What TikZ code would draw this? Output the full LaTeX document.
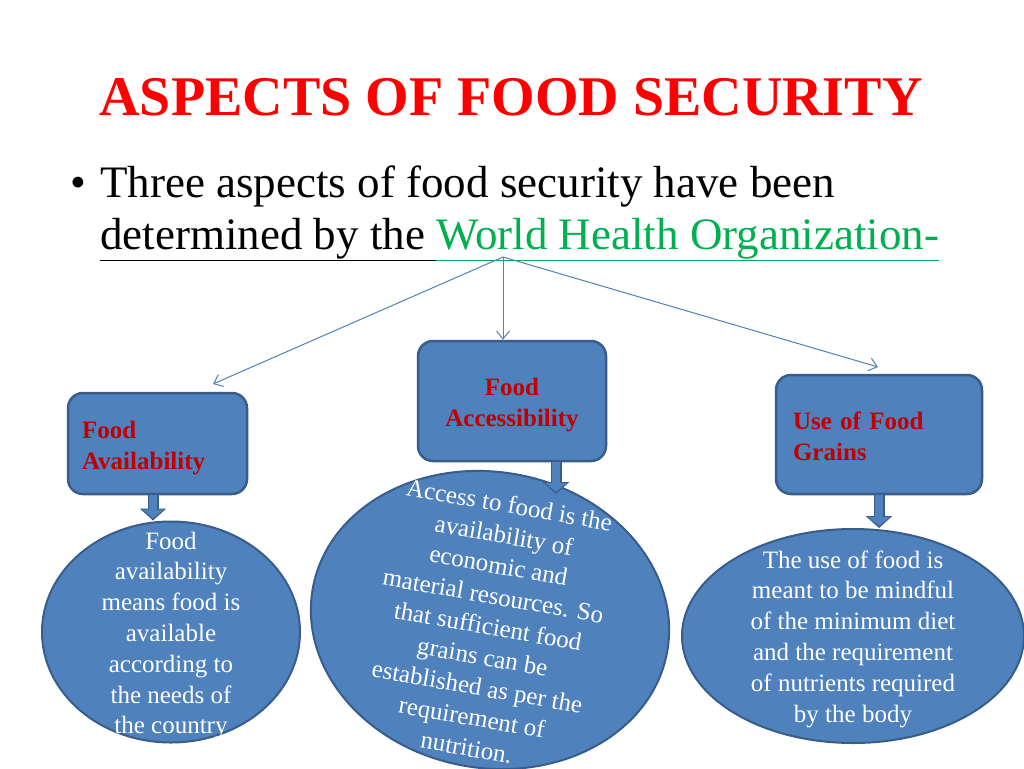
\documentclass[tikz,border=0pt]{standalone}
\usepackage{fontspec}
\setmainfont{Liberation Serif}
\usetikzlibrary{shapes.geometric,arrows.meta,calc}
\definecolor{c1}{RGB}{79,129,189}
\definecolor{c2}{RGB}{56,93,138}
\definecolor{c3}{RGB}{192,0,0}
\definecolor{c4}{RGB}{255,0,0}
\definecolor{c5}{RGB}{0,176,80}
\tikzstyle{aspects chart}=[
    x=1pt, y=-1pt,
    slide title/.style={font={\fontsize{56}{60}\selectfont\bfseries}, text=c4, inner sep=0},
    bullet text/.style={font={\fontsize{45}{50}\selectfont}, anchor=base west, inner sep=0},
    branch/.style={c1, line width=1pt, -{Straight Barb[length=8pt,width=13pt]}},
    aspect box/.style={rectangle, rounded corners=15pt, draw=c2, fill=c1, line width=2.5pt,
        inner sep=0, font={\fontsize{25}{31}\selectfont\bfseries}, text=c3},
    aspect oval/.style={ellipse, draw=c2, fill=c1, line width=2pt, inner sep=0},
    oval text/.style={align=center, text=white, inner sep=0, font={\fontsize{25}{30.8}\selectfont}},
]
\newcommand{\feed}[2]{
    \draw[c2, line width=11pt, -{Triangle[length=12pt,width=26pt]}] (#1) -- (#2);
    \draw[c1, line width=7.5pt, shorten >=2pt, -{Triangle[length=9pt,width=21pt]}] (#1) -- (#2);
}

\begin{document}
\begin{tikzpicture}[aspects chart]
    \useasboundingbox[fill=white] (0,0) rectangle (1024,768);

    % heading
    \node[slide title] (title) at (511,97) {ASPECTS OF FOOD SECURITY};
    \node[bullet text] (dot) at (70,197) {•};
    \node[bullet text] (line1) at (100,197) {Three aspects of food security have been};
    \node[bullet text] (line2) at (100,249)
        {\underline{determined by the }{\color{c5}\underline{World Health Organization-}}};

    % ovals
    \node[aspect oval, minimum width=258, minimum height=221] (availoval) at (171,632) {};
    \node[aspect oval, minimum width=360, minimum height=296, rotate=-10] (accessoval) at (490,620) {};
    \node[aspect oval, minimum width=342, minimum height=214] (grainsoval) at (853,636) {};

    \node[oval text] (availdesc) at ($(availoval.center)+(0,3.5)$)
        {Food\\availability\\means food is\\available\\according to\\the needs of\\the country};
    \node[oval text, rotate=-10] (accessdesc) at (488,626)
        {Access to food is the\\availability of\\economic and\\material resources. So\\that sufficient food\\grains can be\\established as per the\\requirement of\\nutrition.};
    \node[oval text] (grainsdesc) at ($(grainsoval.center)+(0,3)$)
        {The use of food is\\meant to be mindful\\of the minimum diet\\and the requirement\\of nutrients required\\by the body};

    % boxes
    \node[aspect box, minimum width=179, minimum height=101, text width=151, align=left] (avail)
        at (157.5,443.5) {\rule{0pt}{27pt}Food\\Availability};
    \node[aspect box, minimum width=188, minimum height=120, align=center] (access)
        at (512,401) {\rule{0pt}{25pt}Food\\Accessibility};
    \node[aspect box, minimum width=206, minimum height=119, text width=172, align=left] (grains)
        at (879,434.5) {\rule{0pt}{21pt}Use of Food\\Grains};

    % branches
    \coordinate (who) at (503,257);
    \coordinate (availtip) at (213,384);
    \coordinate (grainstip) at (878,367);
    \draw[branch] (who) -- (availtip);
    \draw[branch] (who) -- (who |- access.north);
    \draw[branch] (who) -- (grainstip);

    % block arrows
    \coordinate (accesstip) at (556,494);
    \feed{avail.south -| 153,0}{153,0 |- availoval.north}
    \feed{access.south -| accesstip}{accesstip}
    \feed{grains.south}{grains.south |- grainsoval.north}
\end{tikzpicture}
\end{document}
